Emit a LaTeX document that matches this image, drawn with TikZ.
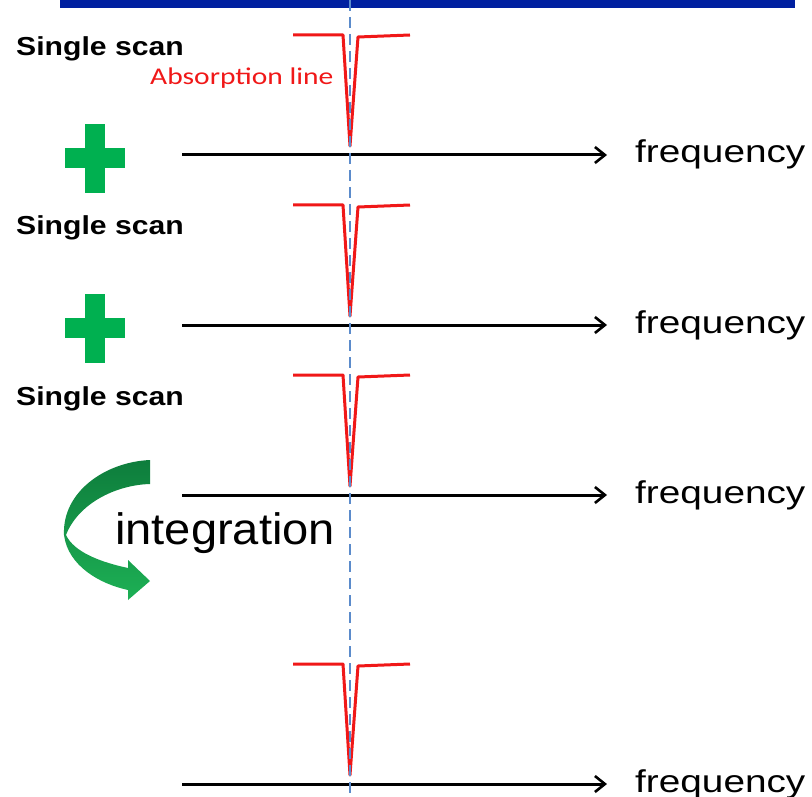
\documentclass[tikz,border=0pt]{standalone}
\usepackage{fontspec}
\usepackage{graphicx}
\setmainfont{Liberation Sans}
\newfontfamily\calib{Carlito}
\usetikzlibrary{arrows.meta}
\definecolor{barblue}{HTML}{0020A0}
\definecolor{dashblue}{HTML}{5B8BCB}
\definecolor{specred}{HTML}{F01818}
\definecolor{plusgreen}{HTML}{00B050}
\definecolor{darkgreen}{HTML}{0E7D3C}
\definecolor{lightgreen}{HTML}{1DB055}
\newcommand\wx[1]{\scalebox{1.23}[1]{#1}}
\newcommand\ws[1]{\scalebox{1.16}[1]{#1}}
\newcommand\wi[1]{\scalebox{1.07}[1]{#1}}
\tikzset{
  axisline/.style={line width=3pt, -{Straight Barb[length=10pt,width=16pt,line width=2.6pt]}},
  spec/.style={specred, line width=3pt, line join=round},
  dashline/.style={dashblue, line width=1.5pt, dash pattern=on 11pt off 6pt},
  lbl/.style={inner sep=0pt, anchor=base west},
  scanlbl/.style={lbl, font=\fontsize{26}{26}\selectfont\bfseries},
  freqlbl/.style={lbl, font=\fontsize{31.5}{31.5}\selectfont},
  abslbl/.style={lbl, text=specred, font=\fontsize{24}{24}\selectfont\calib},
  intlbl/.style={lbl, font=\fontsize{44}{44}\selectfont},
  absline/.pic={\draw[spec] (-57,-120) -- (-7,-120) -- (0,-9) -- (8,-118) -- (60,-120);}
}
\begin{document}
\begin{tikzpicture}[x=1pt,y=-1pt]
\useasboundingbox (0,0) rectangle (812,797);
% top bar
\fill[barblue] (60,0) rectangle (795,8);
% axes and spectra
\foreach \k/\yy in {1/155,2/325,3/495,4/784}{
  \coordinate (s\k) at (182,\yy);
  \coordinate (e\k) at (607,\yy);
  \draw[axisline] (s\k) -- (e\k);
  \pic at (350,\yy) {absline};
  \node[freqlbl] (f\k) at (635,\yy+8) {\wx{frequency}};
}
% dashed vertical line
\coordinate (dtop) at (350,0);
\coordinate (dbot) at (350,797);
\draw[dashline] (dtop) -- (dbot);
% labels
\node[scanlbl] (sc1) at (16,56) {\ws{Single scan}};
\node[scanlbl] (sc2) at (16,235) {\ws{Single scan}};
\node[scanlbl] (sc3) at (16,405) {\ws{Single scan}};
\node[abslbl] (abs) at (150,85) {\wx{Absorption line}};
% plus signs
\foreach \yy in {158,328}{
  \fill[plusgreen] (85,\yy-34) rectangle (105,\yy+35);
  \fill[plusgreen] (65,\yy-10) rectangle (125,\yy+10);
}
% integration arrow
\shade[top color=darkgreen, bottom color=lightgreen]
  (150,460) .. controls (105,462) and (62,492) .. (64,535)
  .. controls (68,566) and (100,584) .. (128,590)
  -- (128,600) -- (150,581) -- (128,560) -- (128,568)
  .. controls (100,562) and (74,552) .. (66,535)
  .. controls (78,504) and (115,485) .. (150,484) -- cycle;
\node[intlbl] (intg) at (115,544) {\wi{integration}};
\end{tikzpicture}
\end{document}
